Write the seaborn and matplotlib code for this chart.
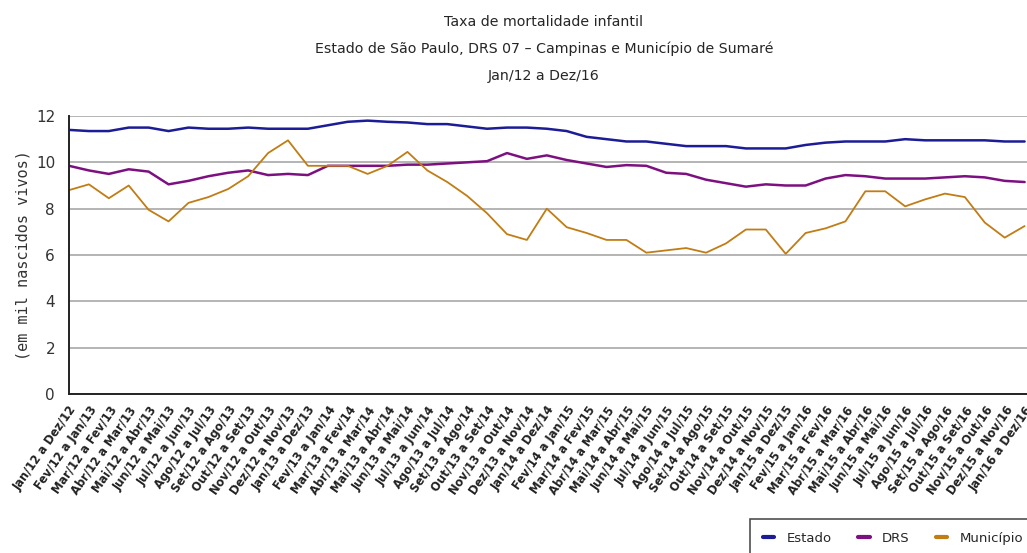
import matplotlib
matplotlib.use("Agg")
import matplotlib.pyplot as plt
import numpy as np
import pandas as pd
import seaborn as sns

meses = ['Jan', 'Fev', 'Mar', 'Abr', 'Mai', 'Jun', 'Jul', 'Ago', 'Set', 'Out', 'Nov', 'Dez']
periodos = ['%s/%d a %s/%d' % (meses[k % 12], 12 + k // 12, meses[(k + 11) % 12], 12 + (k + 11) // 12)
            for k in range(49)]

estado = [11.4, 11.35, 11.35, 11.5, 11.5, 11.35, 11.5, 11.45, 11.45, 11.5,
          11.45, 11.45, 11.45, 11.6, 11.75, 11.8, 11.75, 11.72, 11.65, 11.65,
          11.55, 11.45, 11.5, 11.5, 11.45, 11.35, 11.1, 11.0, 10.9, 10.9,
          10.8, 10.7, 10.7, 10.7, 10.6, 10.6, 10.6, 10.75, 10.85, 10.9,
          10.9, 10.9, 11.0, 10.95, 10.95, 10.95, 10.95, 10.9, 10.9]
drs = [9.85, 9.65, 9.5, 9.7, 9.6, 9.05, 9.2, 9.4, 9.55, 9.65,
       9.45, 9.5, 9.45, 9.85, 9.85, 9.85, 9.85, 9.9, 9.9, 9.95,
       10.0, 10.05, 10.4, 10.15, 10.3, 10.1, 9.95, 9.8, 9.88, 9.85,
       9.55, 9.5, 9.25, 9.1, 8.95, 9.05, 9.0, 9.0, 9.3, 9.45,
       9.4, 9.3, 9.3, 9.3, 9.35, 9.4, 9.35, 9.2, 9.15]
municipio = [8.8, 9.05, 8.45, 9.0, 7.95, 7.45, 8.25, 8.5, 8.85, 9.4,
             10.4, 10.95, 9.85, 9.85, 9.85, 9.5, 9.85, 10.45, 9.65, 9.15,
             8.55, 7.8, 6.9, 6.65, 8.0, 7.2, 6.95, 6.65, 6.65, 6.1,
             6.2, 6.3, 6.1, 6.5, 7.1, 7.1, 6.05, 6.95, 7.15, 7.45,
             8.75, 8.75, 8.1, 8.4, 8.65, 8.5, 7.4, 6.75, 7.25]

series = {'Estado': estado, 'DRS': drs, 'Município': municipio}
cores = {'Estado': '#1c1c96', 'DRS': '#7d1080', 'Município': '#c27c14'}
larguras = {'Estado': 1.8, 'DRS': 1.8, 'Município': 1.3}

df = pd.DataFrame([
    {'pos': i, 'taxa': v, 'serie': nome}
    for nome, vals in series.items() for i, v in enumerate(vals)
])

sns.set_style('white')
plt.rcParams['font.family'] = ['DejaVu Sans']

fig = plt.figure(figsize=(10.27, 5.53), dpi=100)
ax = fig.add_axes([69 / 1027, 1 - 394 / 553, 1 - 69 / 1027, (394 - 116) / 553])

for nome in series:
    sns.lineplot(data=df[df['serie'] == nome], x='pos', y='taxa', ax=ax,
                 color=cores[nome], linewidth=larguras[nome], label=nome)

ax.set_xlim(0, 48.12)
ax.set_ylim(0, 12)
ax.set_yticks(np.arange(0, 13, 2))
ax.set_yticks(np.arange(1, 12, 2), minor=True)
ax.grid(axis='y', which='major', color='#b4b4b4', linewidth=1.4)
ax.set_axisbelow(True)

ax.set_xticks(range(len(periodos)))
ax.set_xticklabels(periodos, rotation=55, ha='right', va='top', rotation_mode='anchor',
                   fontsize=8.3, fontweight='bold', color='#222222')
ax.tick_params(axis='x', direction='in', length=6, width=1, pad=7, color='#222222')
ax.tick_params(axis='y', which='major', direction='in', length=6, width=1, pad=10,
               labelsize=11, labelcolor='#333333', color='#222222')
ax.tick_params(axis='y', which='minor', direction='in', length=4, width=1, color='#222222')

for s in ['top', 'right']:
    ax.spines[s].set_visible(False)
for s in ['left', 'bottom']:
    ax.spines[s].set_color('#222222')
    ax.spines[s].set_linewidth(1.4)

ax.set_xlabel('')
ax.set_ylabel('(em mil nascidos vivos)', family=['DejaVu Sans Mono'], fontsize=11,
              color='#333333', labelpad=4)

ax.get_legend().remove()
handles, labels = ax.get_legend_handles_labels()
leg = fig.legend(handles, labels, loc='upper left', bbox_to_anchor=(750 / 1027, 1 - 519 / 553),
                 borderaxespad=0, ncol=3, frameon=True, fancybox=False, edgecolor='#222222',
                 handlelength=0.9, handletextpad=0.9, columnspacing=2.0,
                 borderpad=0.95, prop={'family': 'DejaVu Sans', 'size': 9.5})
leg.get_frame().set_linewidth(1.2)
for h in leg.get_lines():
    h.set_linewidth(3)

cx = 544 / 1027
fig.text(cx, 1 - 22 / 553, 'Taxa de mortalidade infantil', ha='center', va='center', fontsize=10.2)
fig.text(cx, 1 - 49 / 553, 'Estado de São Paulo, DRS 07 – Campinas e Município de Sumaré',
         ha='center', va='center', fontsize=10.2)
fig.text(cx, 1 - 76 / 553, 'Jan/12 a Dez/16', ha='center', va='center', fontsize=10.2)

fig.savefig('out.png', dpi=100)
